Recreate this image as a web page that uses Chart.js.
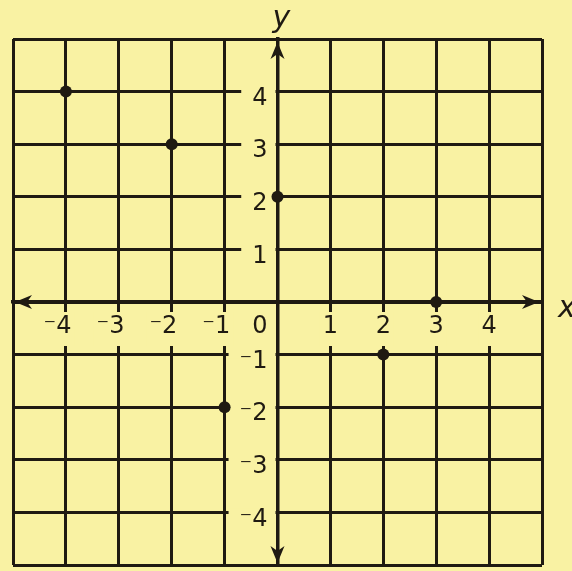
<!DOCTYPE html>
<html>
<head>
<meta charset="utf-8">
<script src="https://cdn.jsdelivr.net/npm/chart.js@4.4.0/dist/chart.umd.min.js"></script>
<style>
  body { margin: 0; background: #f9f2a3; }
  canvas { display: block; }
</style>
</head>
<body>
<canvas id="plane" width="572" height="571"></canvas>
<script>
// plotted points (x, y)
const pointsX = [-4, -2, 0, 3, 2, -1];
const pointsY = [4, 3, 2, 0, -1, -2];

// axis range and tick labels
const axisMin = -5;
const axisMax = 5;
const xTickValues = [-4, -3, -2, -1, 0, 1, 2, 3, 4];
const xTickLabels = ["\u207B4", "\u207B3", "\u207B2", "\u207B1", "0", "1", "2", "3", "4"];
const yTickValues = [-4, -3, -2, -1, 1, 2, 3, 4];
const yTickLabels = ["\u207B4", "\u207B3", "\u207B2", "\u207B1", "1", "2", "3", "4"];

const paper = "#f9f2a3";
const ink = "#1f1a12";
const labelFont = "24px 'DejaVu Sans'";

// where each tick label goes, worked out from the scales
function tickBoxes(chart) {
  const ctx = chart.ctx;
  const xs = chart.scales.x, ys = chart.scales.y;
  const ox = xs.getPixelForValue(0), oy = ys.getPixelForValue(0);
  ctx.save();
  ctx.font = labelFont;
  const boxes = [];
  xTickValues.forEach((v, i) => {
    const text = xTickLabels[i];
    const w = ctx.measureText(text).width;
    const dw = ctx.measureText(text.replace("\u207B", "")).width;
    let right;
    if (v === 0) right = ox - 10;                         // the 0 sits left of the y axis
    else if (v < 0) right = xs.getPixelForValue(v) - 2 + dw / 2; // digit on the line, sign hangs left
    else right = xs.getPixelForValue(v) + w / 2;
    boxes.push({ axis: "x", v, text, w, right, cy: oy + 25 });
  });
  yTickValues.forEach((v, i) => {
    const text = yTickLabels[i];
    const w = ctx.measureText(text).width;
    boxes.push({ axis: "y", v, text, w, right: ox - 10, cy: ys.getPixelForValue(v) + 7 });
  });
  ctx.restore();
  return { boxes, ox, oy };
}

const tickText = {
  id: "tickText",
  beforeDatasetsDraw(chart) {
    // blank the grid behind the labels
    const ctx = chart.ctx;
    const { boxes, ox, oy } = tickBoxes(chart);
    ctx.save();
    ctx.fillStyle = paper;
    boxes.forEach(b => {
      if (b.axis === "x") {
        if (b.v !== 0) ctx.fillRect(b.right - b.w - 3, oy + 10, b.w + 6, 34);
      } else {
        const left = b.right - b.w - 11;
        ctx.fillRect(left, b.cy - 7 - 4, ox - 2 - left, 8);
      }
    });
    ctx.restore();
  },
  afterDatasetsDraw(chart) {
    const ctx = chart.ctx;
    const { boxes } = tickBoxes(chart);
    ctx.save();
    ctx.font = labelFont;
    ctx.fillStyle = ink;
    ctx.textAlign = "right";
    ctx.textBaseline = "middle";
    boxes.forEach(b => ctx.fillText(b.text, b.right, b.cy));
    ctx.restore();
  }
};

// arrows on both axes + the x / y letters
const axisArrows = {
  id: "axisArrows",
  afterDraw(chart) {
    const ctx = chart.ctx;
    const xs = chart.scales.x, ys = chart.scales.y;
    const ox = xs.getPixelForValue(0), oy = ys.getPixelForValue(0);
    const L = 17, W = 7, N = 5;
    function head(tx, ty, dx, dy) {
      const px = -dy, py = dx;
      ctx.beginPath();
      ctx.moveTo(tx, ty);
      ctx.lineTo(tx - dx * L + px * W, ty - dy * L + py * W);
      ctx.lineTo(tx - dx * (L - N), ty - dy * (L - N));
      ctx.lineTo(tx - dx * L - px * W, ty - dy * L - py * W);
      ctx.closePath();
      ctx.fill();
    }
    ctx.save();
    ctx.fillStyle = ink;
    head(xs.getPixelForValue(axisMin) + 2, oy, -1, 0);
    head(xs.getPixelForValue(axisMax) - 3, oy, 1, 0);
    head(ox, ys.getPixelForValue(axisMax) + 3, 0, -1);
    head(ox, ys.getPixelForValue(axisMin) - 2, 0, 1);

    ctx.font = "italic 30px 'DejaVu Sans'";
    ctx.textAlign = "center";
    ctx.textBaseline = "alphabetic";
    ctx.fillText("y", ox + 4, 27);
    ctx.textAlign = "left";
    ctx.fillText("x", xs.getPixelForValue(axisMax) + 16, oy + 15);
    ctx.restore();
  }
};

new Chart(document.getElementById("plane").getContext("2d"), {
  type: "scatter",
  data: {
    datasets: [{
      data: pointsX.map((x, i) => ({ x: x, y: pointsY[i] })),
      pointRadius: 6,
      pointBackgroundColor: ink,
      pointBorderWidth: 0,
      pointHoverRadius: 6
    }]
  },
  options: {
    responsive: false,
    animation: false,
    layout: { padding: { left: 13, top: 39, right: 30, bottom: 4 } },
    plugins: { legend: { display: false }, tooltip: { enabled: false } },
    scales: {
      x: {
        type: "linear",
        position: { y: 0 },
        min: axisMin,
        max: axisMax,
        grid: { color: ink, lineWidth: 3, drawTicks: false },
        border: { color: ink, width: 3.5 },
        ticks: { stepSize: 1, display: false }
      },
      y: {
        type: "linear",
        position: { x: 0 },
        min: axisMin,
        max: axisMax,
        grid: { color: ink, lineWidth: 3, drawTicks: false },
        border: { color: ink, width: 3.5 },
        ticks: { stepSize: 1, display: false }
      }
    }
  },
  plugins: [tickText, axisArrows]
});
</script>
</body>
</html>
